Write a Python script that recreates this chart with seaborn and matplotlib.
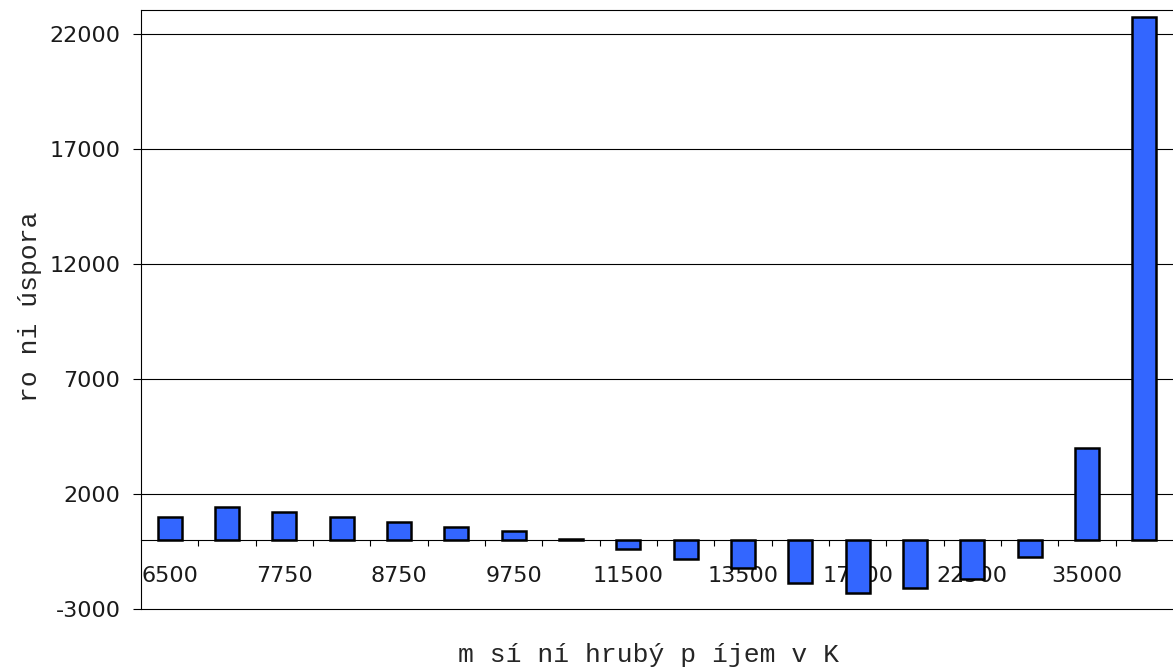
import numpy as np
import matplotlib
matplotlib.use("Agg")
import matplotlib.pyplot as plt
import seaborn as sns

# Income bands (index) with every other band labelled
band_index = list(range(18))
band_labels = ["6500", "", "7750", "", "8750", "", "9750", "", "11500", "",
               "13500", "", "17000", "", "22500", "", "35000", ""]
# Yearly saving per band
saving = [1000, 1430, 1200, 985, 800, 565, 380, 60, -405, -810,
          -1215, -1870, -2320, -2090, -1710, -750, 3980, 22730]

y_ticks = [-3000, 2000, 7000, 12000, 17000, 22000]
y_limits = (-3000, 23050)

sns.set_theme(style="white")
plt.rcParams["font.family"] = ["DejaVu Sans"]

fig = plt.figure(figsize=(11.73, 6.69), dpi=100)
ax = fig.add_axes([0.1202, 0.0897, 0.8798, 0.8954])

sns.barplot(x=band_index, y=saving, color="#3366FF", saturation=1,
            width=0.42, edgecolor="black", linewidth=1.8, ax=ax)

ax.set_xlim(-0.5, 17.5)
ax.set_ylim(*y_limits)
ax.set_axisbelow(True)

# horizontal grid
ax.set_yticks(y_ticks)
ax.set_yticklabels([str(v) for v in y_ticks], fontsize=16, color="#1a1a1a")
ax.yaxis.grid(True, color="black", linewidth=0.8)
for gl in ax.get_ygridlines():
    gl.set_clip_on(False)
ax.xaxis.grid(False)
ax.tick_params(axis="y", left=True, direction="out", length=5.8, width=0.8,
               color="black", pad=9)

# x axis runs along zero
ax.spines["bottom"].set_position(("data", 0))
ax.spines["right"].set_visible(False)
for s in ("left", "top", "bottom"):
    ax.spines[s].set_color("black")
    ax.spines[s].set_linewidth(0.8)

ax.set_xticks(band_index)
ax.set_xticklabels(band_labels, fontsize=16, color="#1a1a1a")
ax.set_xticks(np.arange(0.5, 17.0, 1.0), minor=True)
ax.tick_params(axis="x", which="major", bottom=True, length=0, pad=18.5)
ax.tick_params(axis="x", which="minor", bottom=True, direction="out",
               length=4.3, width=0.8, color="black")

mono = ["Liberation Mono", "DejaVu Sans Mono"]
ax.set_xlabel("m sí ní hrubý p íjem v K", fontsize=19, family=mono)
ax.set_ylabel("ro ni úspora", fontsize=19, family=mono)
ax.xaxis.set_label_coords(0.492, -0.0768)
ax.yaxis.set_label_coords(-0.1076, 0.505)
ax.xaxis.label.set_verticalalignment("center")
ax.yaxis.label.set_verticalalignment("center")

fig.savefig("out.png", dpi=100)
